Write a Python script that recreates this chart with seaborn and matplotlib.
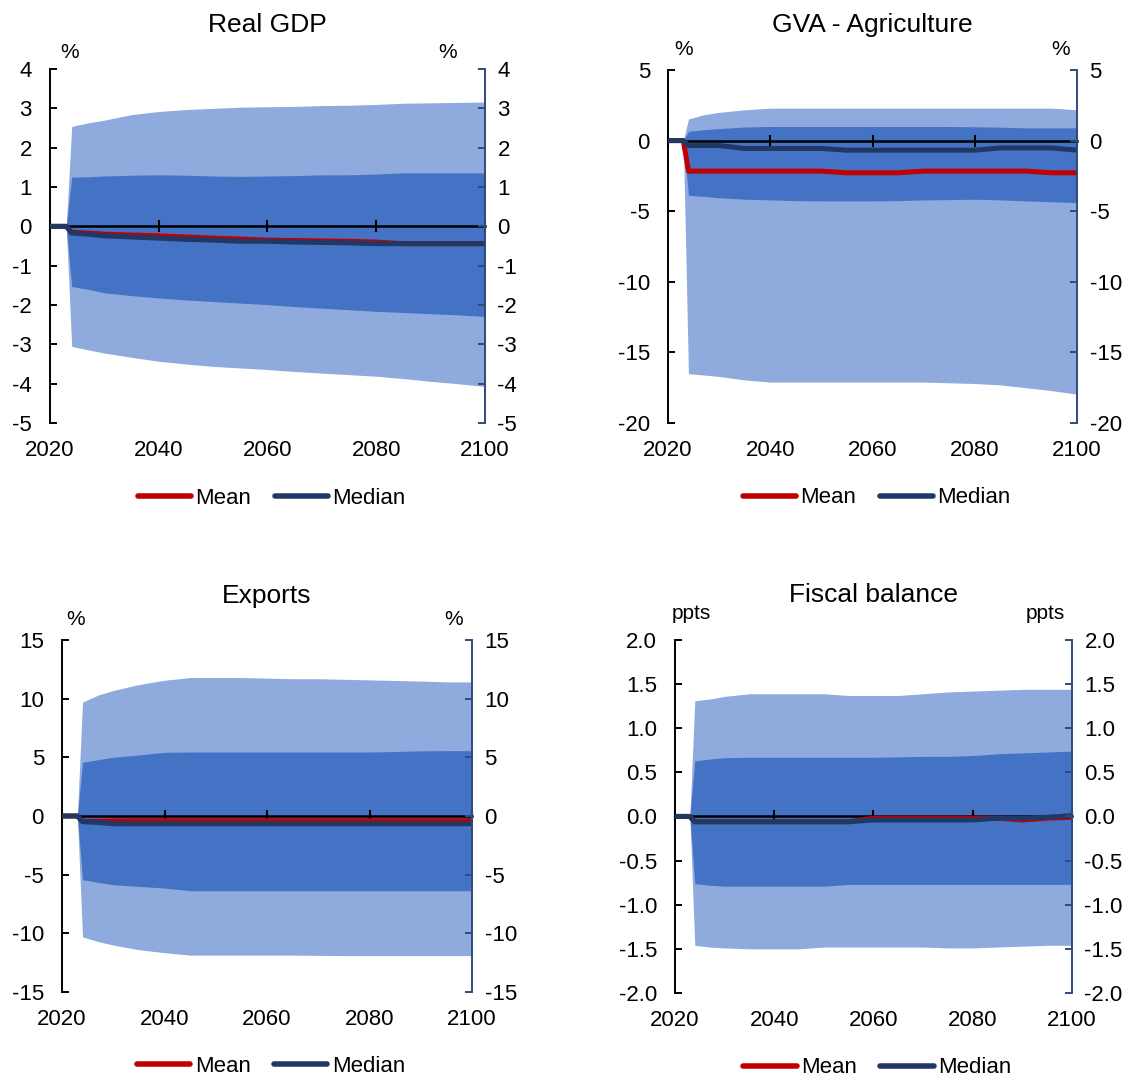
import pandas as pd
import matplotlib.pyplot as plt
import seaborn as sns

sns.set_theme(style='white')
plt.rcParams['font.family'] = ['Liberation Sans', 'DejaVu Sans']
plt.rcParams['text.color'] = 'black'
plt.rcParams['axes.labelcolor'] = 'black'
plt.rcParams['xtick.color'] = 'black'
plt.rcParams['ytick.color'] = 'black'

# Projection years (fan opens in 2024)
years = [2020, 2023, 2024, 2027, 2030, 2035, 2040, 2045, 2050, 2055,
         2060, 2065, 2070, 2075, 2080, 2085, 2090, 2095, 2100]

# Real GDP (%)
gdp_outer_hi = [0, 0, 2.54, 2.63, 2.70, 2.84, 2.92, 2.97, 3.00, 3.03, 3.04, 3.05, 3.07, 3.08, 3.10, 3.13, 3.14, 3.15, 3.16]
gdp_inner_hi = [0, 0, 1.25, 1.26, 1.28, 1.30, 1.31, 1.30, 1.28, 1.27, 1.28, 1.29, 1.31, 1.31, 1.33, 1.36, 1.36, 1.36, 1.36]
gdp_inner_lo = [0, 0, -1.53, -1.60, -1.69, -1.76, -1.82, -1.87, -1.91, -1.95, -1.99, -2.04, -2.08, -2.12, -2.16, -2.19, -2.22, -2.25, -2.29]
gdp_outer_lo = [0, 0, -3.05, -3.14, -3.22, -3.33, -3.43, -3.50, -3.56, -3.60, -3.64, -3.69, -3.73, -3.77, -3.81, -3.87, -3.94, -4.00, -4.07]
gdp_mean = [0, 0, -0.15, -0.17, -0.20, -0.22, -0.24, -0.27, -0.30, -0.32, -0.35, -0.36, -0.37, -0.38, -0.40, -0.44, -0.44, -0.44, -0.44]
gdp_median = [0, 0, -0.17, -0.20, -0.24, -0.27, -0.30, -0.33, -0.35, -0.38, -0.38, -0.40, -0.41, -0.42, -0.44, -0.44, -0.44, -0.44, -0.44]

# GVA - Agriculture (%)
agr_outer_hi = [0, 0, 1.53, 1.83, 2.00, 2.18, 2.30, 2.30, 2.30, 2.30, 2.30, 2.30, 2.30, 2.30, 2.30, 2.30, 2.30, 2.30, 2.18]
agr_inner_hi = [0, 0, 0.66, 0.77, 0.85, 0.96, 1.00, 1.00, 1.00, 1.00, 1.00, 1.00, 1.00, 1.00, 0.98, 0.95, 0.90, 0.90, 0.90]
agr_inner_lo = [0, 0, -3.87, -3.95, -4.05, -4.15, -4.20, -4.25, -4.27, -4.27, -4.27, -4.25, -4.20, -4.18, -4.15, -4.20, -4.27, -4.33, -4.39]
agr_outer_lo = [0, 0, -16.5, -16.6, -16.7, -16.95, -17.1, -17.1, -17.1, -17.1, -17.1, -17.1, -17.1, -17.15, -17.2, -17.3, -17.5, -17.7, -17.96]
agr_mean = [0, 0, -2.16, -2.16, -2.16, -2.16, -2.16, -2.16, -2.16, -2.28, -2.28, -2.28, -2.16, -2.16, -2.16, -2.16, -2.16, -2.28, -2.28]
agr_median = [0, 0, -0.35, -0.35, -0.35, -0.56, -0.56, -0.56, -0.56, -0.68, -0.68, -0.68, -0.68, -0.68, -0.68, -0.52, -0.52, -0.52, -0.68]

# Exports (%)
exp_outer_hi = [0, 0, 9.71, 10.3, 10.7, 11.2, 11.57, 11.8, 11.8, 11.8, 11.75, 11.7, 11.7, 11.65, 11.6, 11.55, 11.5, 11.43, 11.43]
exp_inner_hi = [0, 0, 4.57, 4.80, 5.00, 5.20, 5.43, 5.45, 5.45, 5.45, 5.45, 5.45, 5.45, 5.45, 5.45, 5.50, 5.55, 5.57, 5.57]
exp_inner_lo = [0, 0, -5.43, -5.65, -5.86, -6.00, -6.14, -6.37, -6.37, -6.37, -6.37, -6.37, -6.37, -6.37, -6.37, -6.37, -6.37, -6.37, -6.37]
exp_outer_lo = [0, 0, -10.3, -10.7, -11.0, -11.4, -11.65, -11.86, -11.86, -11.86, -11.86, -11.86, -11.88, -11.9, -11.9, -11.9, -11.9, -11.9, -11.9]
exp_mean = [0, 0, -0.45, -0.45, -0.42, -0.40, -0.40, -0.40, -0.40, -0.40, -0.40, -0.40, -0.40, -0.40, -0.40, -0.40, -0.40, -0.40, -0.40]
exp_median = [0, 0, -0.49, -0.55, -0.66, -0.66, -0.66, -0.66, -0.66, -0.66, -0.66, -0.66, -0.66, -0.66, -0.66, -0.66, -0.66, -0.66, -0.66]

# Fiscal balance (ppts)
fis_outer_hi = [0, 0, 1.31, 1.33, 1.36, 1.39, 1.39, 1.39, 1.39, 1.37, 1.37, 1.37, 1.39, 1.41, 1.42, 1.43, 1.44, 1.44, 1.44]
fis_inner_hi = [0, 0, 0.63, 0.65, 0.665, 0.67, 0.67, 0.67, 0.67, 0.67, 0.67, 0.675, 0.68, 0.68, 0.69, 0.71, 0.72, 0.73, 0.74]
fis_inner_lo = [0, 0, -0.76, -0.78, -0.79, -0.79, -0.79, -0.79, -0.79, -0.77, -0.77, -0.77, -0.77, -0.77, -0.77, -0.77, -0.77, -0.77, -0.77]
fis_outer_lo = [0, 0, -1.46, -1.48, -1.49, -1.50, -1.50, -1.50, -1.48, -1.48, -1.48, -1.48, -1.48, -1.49, -1.49, -1.48, -1.47, -1.46, -1.46]
fis_mean = [0, 0, -0.06, -0.06, -0.06, -0.06, -0.06, -0.06, -0.06, -0.06, -0.02, -0.02, -0.02, -0.02, -0.02, -0.02, -0.04, -0.02, -0.01]
fis_median = [0, 0, -0.06, -0.06, -0.06, -0.06, -0.06, -0.06, -0.06, -0.06, -0.04, -0.04, -0.04, -0.04, -0.04, -0.02, -0.02, -0.01, 0.01]

x_ticks = [2020, 2040, 2060, 2080, 2100]

LIGHT = '#8FAADC'
DARK = '#4472C4'
RED = '#C00000'
NAVY = '#203864'
RSPINE = '#2F4B7C'

panels = [
    dict(title='Real GDP', unit='%', rect=[0.0439, 0.6083, 0.3822, 0.3278],
         bands=(gdp_outer_lo, gdp_inner_lo, gdp_inner_hi, gdp_outer_hi),
         mean=gdp_mean, median=gdp_median,
         yticks=[-5, -4, -3, -2, -1, 0, 1, 2, 3, 4], fmt='{:g}',
         unit_off=(14, 12, -27)),
    dict(title='GVA - Agriculture', unit='%', rect=[0.5870, 0.6083, 0.3594, 0.3269],
         bands=(agr_outer_lo, agr_inner_lo, agr_inner_hi, agr_outer_hi),
         mean=agr_mean, median=agr_median,
         yticks=[-20, -15, -10, -5, 0, 5], fmt='{:g}',
         unit_off=(11, 15, -12)),
    dict(title='Exports', unit='%', rect=[0.0545, 0.0815, 0.3603, 0.3259],
         bands=(exp_outer_lo, exp_inner_lo, exp_inner_hi, exp_outer_hi),
         mean=exp_mean, median=exp_median,
         yticks=[-15, -10, -5, 0, 5, 10, 15], fmt='{:g}',
         unit_off=(10, 15, -13)),
    dict(title='Fiscal balance', unit='ppts', rect=[0.5931, 0.0806, 0.3489, 0.3269],
         bands=(fis_outer_lo, fis_inner_lo, fis_inner_hi, fis_outer_hi),
         mean=fis_mean, median=fis_median,
         yticks=[-2.0, -1.5, -1.0, -0.5, 0.0, 0.5, 1.0, 1.5, 2.0], fmt='{:.1f}',
         unit_off=(12, 19, -19)),
]

fig = plt.figure(figsize=(11.38, 10.8), dpi=100)

for p in panels:
    ax = fig.add_axes(p['rect'])
    ax.set_axisbelow(False)
    outer_lo, inner_lo, inner_hi, outer_hi = p['bands']

    # fan bands
    ax.fill_between(years, outer_lo, outer_hi, color=LIGHT, lw=0, zorder=1)
    ax.fill_between(years, inner_lo, inner_hi, color=DARK, lw=0, zorder=1.2)

    df = pd.DataFrame({
        'year': years * 2,
        'value': p['mean'] + p['median'],
        'series': ['Mean'] * len(years) + ['Median'] * len(years),
    })
    sns.lineplot(data=df, x='year', y='value', hue='series',
                 palette={'Mean': RED, 'Median': NAVY}, linewidth=3.6,
                 solid_capstyle='butt', zorder=3, ax=ax)

    ymin, ymax = p['yticks'][0], p['yticks'][-1]
    ax.set_xlim(2020, 2100)
    ax.set_ylim(ymin, ymax)
    ax.set_xlabel('')
    ax.set_ylabel('')

    # zero line carries the x tick marks
    ax.spines['top'].set_visible(False)
    ax.spines['right'].set_visible(False)
    ax.spines['bottom'].set_position(('data', 0))
    ax.spines['bottom'].set_color('black')
    ax.spines['bottom'].set_linewidth(1.8)
    ax.spines['left'].set_color('black')
    ax.spines['left'].set_linewidth(1.4)
    ax.set_xticks(x_ticks)
    ax.tick_params(axis='x', direction='inout', length=9, width=1.5,
                   color='black', labelbottom=False, bottom=True)

    ax.set_yticks(p['yticks'])
    ax.set_yticklabels([p['fmt'].format(v) for v in p['yticks']])
    ax.tick_params(axis='y', direction='in', length=5, width=1.4, color='black',
                   labelcolor='black', labelsize=16, pad=13, left=True)

    # year labels at the bottom of the panel
    sec = ax.secondary_xaxis('bottom')
    sec.set_xticks(x_ticks)
    sec.set_xticklabels([str(v) for v in x_ticks])
    sec.spines['bottom'].set_visible(False)
    sec.tick_params(length=0, labelsize=16, labelcolor='black', pad=12)

    # mirrored right axis
    ax2 = ax.twinx()
    ax2.set_ylim(ymin, ymax)
    ax2.set_yticks(p['yticks'])
    ax2.set_yticklabels([p['fmt'].format(v) for v in p['yticks']])
    for s in ['top', 'left', 'bottom']:
        ax2.spines[s].set_visible(False)
    ax2.spines['right'].set_color(RSPINE)
    ax2.spines['right'].set_linewidth(1.4)
    ax2.tick_params(axis='y', direction='in', length=5, width=1.4, color=RSPINE,
                    labelcolor='black', labelsize=16, pad=9, right=True)
    ax2.grid(False)

    ax.set_title(p['title'], fontsize=19, pad=27, color='black')

    lx, ly, rx = p['unit_off']
    ax.annotate(p['unit'], xy=(0, 1), xycoords='axes fraction', xytext=(lx, ly),
                textcoords='offset points', ha='center', va='center', fontsize=15)
    ax.annotate(p['unit'], xy=(1, 1), xycoords='axes fraction', xytext=(rx, ly),
                textcoords='offset points', ha='center', va='center', fontsize=15)

    sns.move_legend(ax, 'center', bbox_to_anchor=(0.51, -0.212), ncol=2,
                    frameon=False, title=None, fontsize=16, handlelength=2.4,
                    handletextpad=0.2, columnspacing=1.05, labelcolor='black')
    for line in ax.get_legend().get_lines():
        line.set_linewidth(4)
        line.set_solid_capstyle('round')

fig.savefig('out.png', dpi=100)
